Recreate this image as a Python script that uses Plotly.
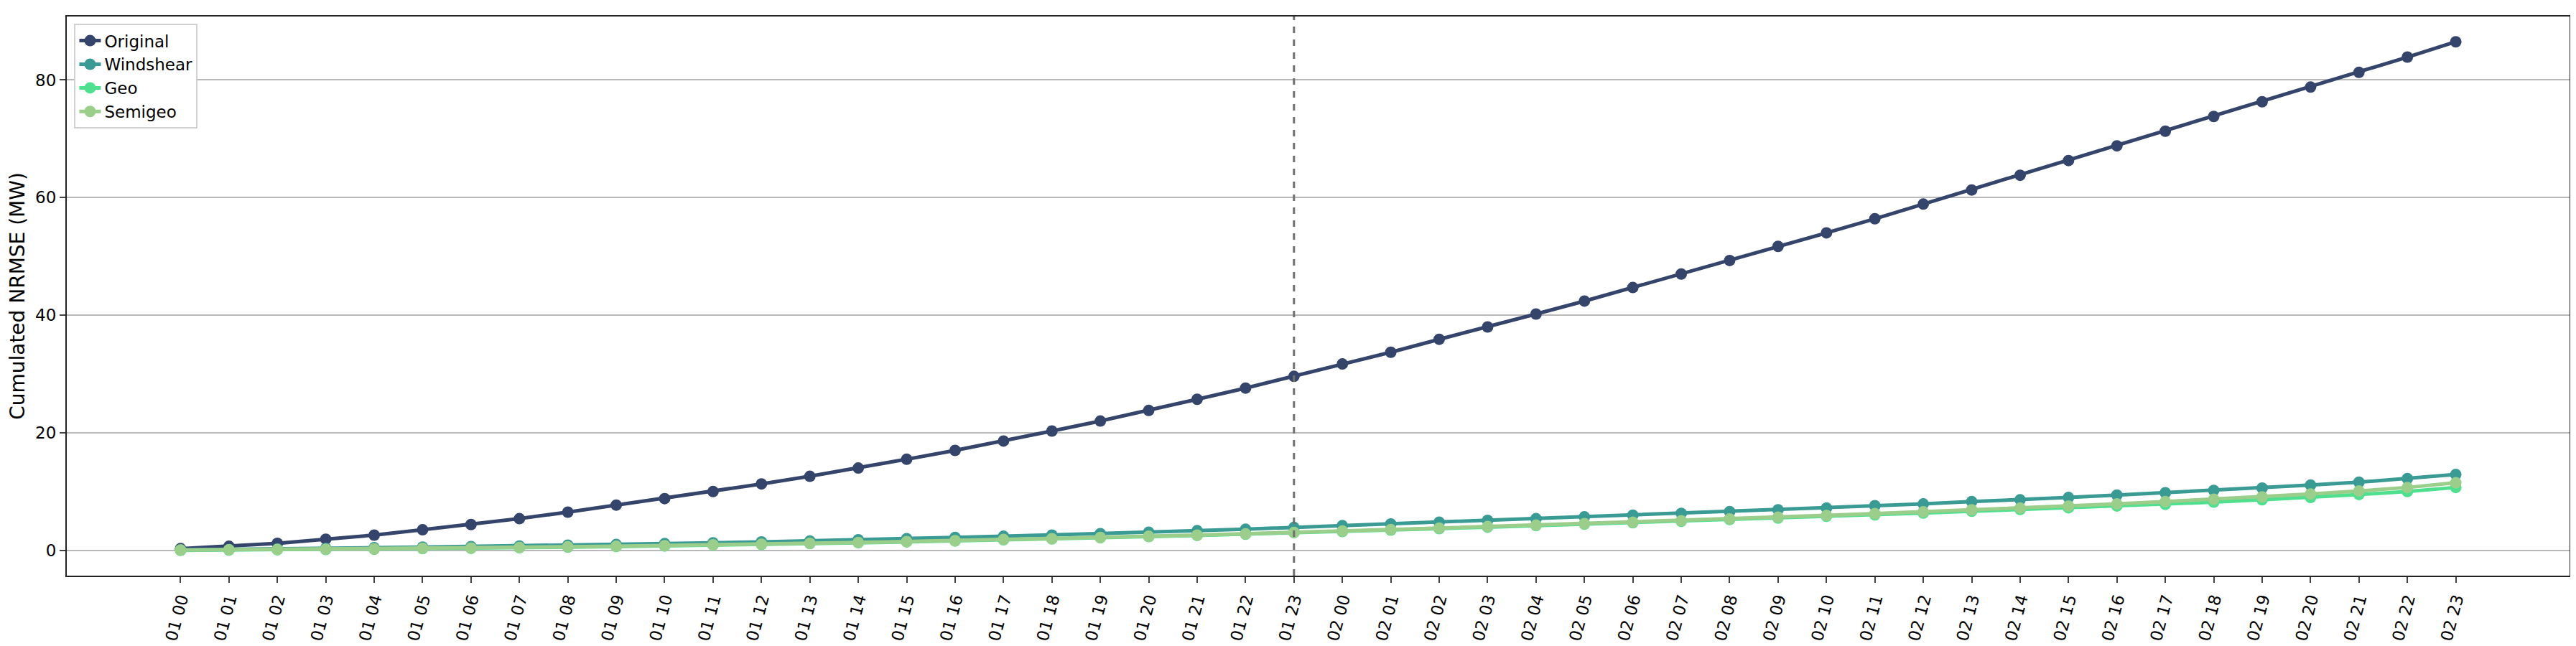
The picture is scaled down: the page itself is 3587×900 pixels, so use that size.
import plotly.graph_objects as go

hours = [f"01 {h:02d}" for h in range(24)] + [f"02 {h:02d}" for h in range(24)]

original = [0.3, 0.7, 1.2, 1.9, 2.6, 3.5, 4.4, 5.4, 6.5, 7.7, 8.8, 10.0,
            11.3, 12.6, 14.0, 15.5, 17.0, 18.6, 20.3, 22.0, 23.8, 25.7, 27.6, 29.6,
            31.7, 33.7, 35.9, 38.0, 40.2, 42.4, 44.7, 47.0, 49.3, 51.7, 54.0, 56.4,
            58.9, 61.3, 63.8, 66.3, 68.8, 71.3, 73.8, 76.3, 78.8, 81.3, 83.9, 86.5]
windshear = [0.1, 0.15, 0.25, 0.35, 0.45, 0.55, 0.65, 0.75, 0.9, 1.0, 1.15, 1.3,
             1.45, 1.6, 1.8, 2.0, 2.2, 2.4, 2.6, 2.85, 3.1, 3.35, 3.6, 3.9,
             4.2, 4.5, 4.8, 5.1, 5.4, 5.7, 6.0, 6.3, 6.6, 6.9, 7.2, 7.6,
             7.9, 8.3, 8.6, 9.0, 9.4, 9.8, 10.2, 10.6, 11.1, 11.6, 12.2, 12.9]
geo = [0.0, 0.05, 0.1, 0.15, 0.2, 0.3, 0.35, 0.45, 0.55, 0.65, 0.75, 0.9,
       1.0, 1.15, 1.3, 1.45, 1.6, 1.8, 1.95, 2.15, 2.35, 2.55, 2.75, 3.0,
       3.2, 3.45, 3.7, 3.95, 4.2, 4.45, 4.7, 4.95, 5.25, 5.5, 5.8, 6.05,
       6.35, 6.65, 6.95, 7.25, 7.55, 7.85, 8.2, 8.6, 9.0, 9.5, 10.0, 10.7]
semigeo = [0.05, 0.1, 0.15, 0.2, 0.25, 0.35, 0.4, 0.5, 0.6, 0.7, 0.8, 0.95,
           1.05, 1.2, 1.35, 1.5, 1.65, 1.85, 2.0, 2.2, 2.4, 2.6, 2.8, 3.05,
           3.3, 3.55, 3.8, 4.05, 4.3, 4.55, 4.8, 5.05, 5.35, 5.65, 5.95, 6.25,
           6.55, 6.9, 7.2, 7.55, 7.9, 8.3, 8.7, 9.1, 9.6, 10.1, 10.7, 11.5]

series = [("Original", original, "#35446b"),
          ("Windshear", windshear, "#3a9a94"),
          ("Geo", geo, "#4fe08f"),
          ("Semigeo", semigeo, "#9bcd8b")]

fig = go.Figure()
for name, vals, col in series:
    fig.add_trace(go.Scatter(x=list(range(len(hours))), y=vals, name=name,
                             mode="lines+markers",
                             line=dict(color=col, width=5),
                             marker=dict(color=col, size=16)))

# split marker between the two days
fig.add_vline(x=23, line=dict(color="#707070", width=3, dash="dash"))

fig.update_layout(
    width=3587, height=900,
    margin=dict(l=85, r=17, t=15, b=92),
    plot_bgcolor="white", paper_bgcolor="white",
    font=dict(family="DejaVu Sans", size=23, color="black"),
    legend=dict(x=0.003, y=0.987, xanchor="left", yanchor="top",
                bordercolor="#d0d0d0", borderwidth=2, bgcolor="white",
                font=dict(size=23)),
    xaxis=dict(range=[-2.35, 49.35], tickmode="array",
               tickvals=list(range(len(hours))), ticktext=hours,
               tickangle=-75, showgrid=False, zeroline=False,
               showline=True, linecolor="#222", linewidth=2, mirror=True,
               ticks="outside", ticklen=8, tickwidth=2),
    yaxis=dict(range=[-4.3, 90.8], tickvals=[0, 20, 40, 60, 80],
               showgrid=True, gridcolor="#b8b8b8", gridwidth=2, zeroline=False,
               showline=True, linecolor="#222", linewidth=2, mirror=True,
               ticks="outside", ticklen=8, tickwidth=2,
               title=dict(text="Cumulated NRMSE (MW)", standoff=10)),
)

fig.write_html("out.html")
